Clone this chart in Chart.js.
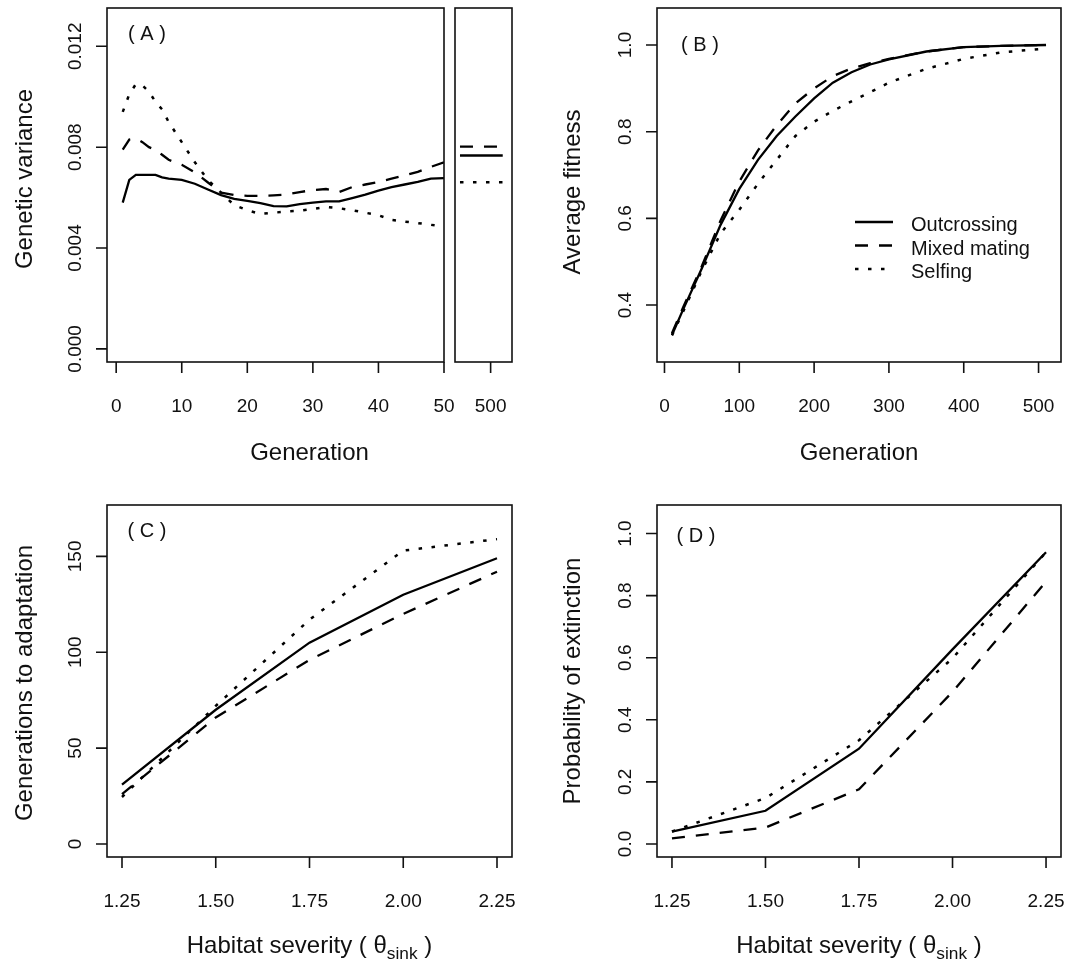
<!DOCTYPE html>
<html>
<head>
<meta charset="utf-8">
<script src="https://cdn.jsdelivr.net/npm/chart.js@4.4.1/dist/chart.umd.min.js"></script>
<style>
  body { margin: 0; background: #fff; }
  canvas { position: absolute; left: 0; top: 0; }
</style>
</head>
<body>
<canvas id="panelA" width="1067" height="963"></canvas>
<canvas id="panelA500" width="1067" height="963"></canvas>
<canvas id="panelB" width="1067" height="963"></canvas>
<canvas id="panelC" width="1067" height="963"></canvas>
<canvas id="panelD" width="1067" height="963"></canvas>
<script>
// ---- data ----

// (A) genetic variance over the first 50 generations
const genA = [1, 2, 3, 4, 5, 6, 7, 8, 10, 12, 14, 16, 18, 20, 22, 24, 26, 28, 30, 32, 34, 36, 38, 40, 42, 44, 46, 48, 50];
const varOut = [0.0058, 0.0067, 0.0069, 0.0069, 0.0069, 0.0069, 0.0068, 0.00675, 0.0067, 0.00655, 0.00632, 0.0061, 0.00595, 0.00587,
  0.00578, 0.00566, 0.00565, 0.00574, 0.0058, 0.00585, 0.00585, 0.00598, 0.00612, 0.00628, 0.00642, 0.00652, 0.00662, 0.00675, 0.00677];
const varMix = [0.0079, 0.0083, 0.00835, 0.0082, 0.008, 0.0079, 0.0077, 0.0075, 0.0073, 0.007, 0.0066, 0.0062, 0.0061, 0.00607,
  0.00607, 0.00609, 0.00612, 0.00622, 0.0063, 0.00634, 0.00622, 0.00642, 0.00652, 0.00662, 0.00675, 0.00688, 0.00702, 0.00722, 0.0074];
const varSelf = [0.0094, 0.0101, 0.0105, 0.01045, 0.0102, 0.0098, 0.0095, 0.009, 0.0082, 0.0074, 0.0067, 0.0062, 0.0057, 0.0055,
  0.00535, 0.0054, 0.00545, 0.00548, 0.00555, 0.00563, 0.00558, 0.0055, 0.0054, 0.0053, 0.00512, 0.00505, 0.00499, 0.00492, 0.00485];
// (A) inset at generation 500: outcrossing, mixed, selfing
const gen500 = [457, 517];
const var500 = [0.00767, 0.00802, 0.00661];

// (B) average fitness
const genB = [10, 25, 50, 75, 100, 125, 150, 175, 200, 225, 250, 275, 300, 350, 400, 450, 510];
const fitOut = [0.331, 0.39, 0.485, 0.585, 0.668, 0.735, 0.79, 0.835, 0.877, 0.913, 0.937, 0.955, 0.967, 0.985, 0.995, 0.998, 1.0];
const fitMix = [0.335, 0.395, 0.49, 0.595, 0.685, 0.757, 0.815, 0.865, 0.9, 0.928, 0.946, 0.958, 0.968, 0.985, 0.995, 0.998, 1.0];
const fitSelf = [0.33, 0.385, 0.48, 0.565, 0.62, 0.68, 0.735, 0.79, 0.823, 0.848, 0.87, 0.891, 0.913, 0.945, 0.968, 0.983, 0.992];

// (C) and (D) against habitat severity
const severity = [1.25, 1.5, 1.75, 2.0, 2.25];
const adaptOut = [31, 70, 105, 130, 149];
const adaptMix = [26, 66, 96, 120, 142];
const adaptSelf = [24.5, 72, 117, 153, 159];
const extOut = [0.04, 0.107, 0.307, 0.627, 0.94];
const extMix = [0.018, 0.053, 0.176, 0.49, 0.845];
const extSelf = [0.04, 0.148, 0.334, 0.598, 0.94];

// tick values and labels
const ticksAx = [0, 10, 20, 30, 40, 50];
const labelsAx = ['0', '10', '20', '30', '40', '50'];
const ticksAy = [0, 0.004, 0.008, 0.012];
const labelsAy = ['0.000', '0.004', '0.008', '0.012'];
const ticksA500 = [500];
const labelsA500 = ['500'];
const ticksBx = [0, 100, 200, 300, 400, 500];
const labelsBx = ['0', '100', '200', '300', '400', '500'];
const ticksBy = [0.4, 0.6, 0.8, 1.0];
const labelsBy = ['0.4', '0.6', '0.8', '1.0'];
const ticksSev = [1.25, 1.5, 1.75, 2.0, 2.25];
const labelsSev = ['1.25', '1.50', '1.75', '2.00', '2.25'];
const ticksCy = [0, 50, 100, 150];
const labelsCy = ['0', '50', '100', '150'];
const ticksDy = [0, 0.2, 0.4, 0.6, 0.8, 1.0];
const labelsDy = ['0.0', '0.2', '0.4', '0.6', '0.8', '1.0'];

// ---- drawing ----
const W = 1067, H = 963;
const FONT = '"Liberation Sans", Arial, Helvetica, sans-serif';
const INK = '#111';
const TICK_LEN = 11;
const TICK_SIZE = 19;
const TITLE_SIZE = 24;

const STYLES = {
    out: { label: 'Outcrossing', dash: [], width: 2.3 },
    mix: { label: 'Mixed mating', dash: [13, 11], width: 2.3 },
    self: { label: 'Selfing', dash: [3.5, 9.5], width: 2.5 }
};

function series(xs, ys, kind) {
    const s = STYLES[kind];
    return {
        label: s.label,
        data: xs.map((x, i) => ({ x: x, y: ys[i] })),
        borderColor: '#000',
        borderWidth: s.width,
        borderDash: s.dash,
        pointRadius: 0,
        tension: 0,
        fill: false
    };
}

// text made of pieces, some of them subscripts
function drawParts(ctx, parts, size) {
    let widths = parts.map(p => {
        ctx.font = (p.sub ? size * 0.72 : size) + 'px ' + FONT;
        return ctx.measureText(p.t).width;
    });
    let total = widths.reduce((a, b) => a + b, 0);
    let x = -total / 2;
    parts.forEach((p, i) => {
        ctx.font = (p.sub ? size * 0.72 : size) + 'px ' + FONT;
        ctx.textAlign = 'left';
        ctx.fillText(p.t, x, p.sub ? size * 0.25 : 0);
        x += widths[i];
    });
}

const rAxes = {
    id: 'rAxes',
    afterDraw(chart, args, o) {
        const ctx = chart.ctx;
        const a = chart.chartArea;
        const sx = chart.scales.x, sy = chart.scales.y;
        ctx.save();
        ctx.strokeStyle = INK;
        ctx.fillStyle = INK;
        ctx.lineWidth = 1.6;
        ctx.setLineDash([]);
        ctx.strokeRect(a.left, a.top, a.right - a.left, a.bottom - a.top);

        const xt = o.xTicks || [], yt = o.yTicks || [];
        ctx.beginPath();
        xt.forEach(v => {
            const p = sx.getPixelForValue(v);
            ctx.moveTo(p, a.bottom);
            ctx.lineTo(p, a.bottom + TICK_LEN);
        });
        yt.forEach(v => {
            const p = sy.getPixelForValue(v);
            ctx.moveTo(a.left, p);
            ctx.lineTo(a.left - TICK_LEN, p);
        });
        ctx.stroke();

        ctx.font = TICK_SIZE + 'px ' + FONT;
        ctx.textAlign = 'center';
        ctx.textBaseline = 'alphabetic';
        xt.forEach((v, i) => ctx.fillText(o.xLabels[i], sx.getPixelForValue(v), a.bottom + 50));
        yt.forEach((v, i) => {
            ctx.save();
            ctx.translate(a.left - 26, sy.getPixelForValue(v));
            ctx.rotate(-Math.PI / 2);
            ctx.fillText(o.yLabels[i], 0, 0);
            ctx.restore();
        });

        if (o.xTitle) {
            ctx.save();
            ctx.translate(o.xTitleAt[0], o.xTitleAt[1]);
            drawParts(ctx, o.xTitle, TITLE_SIZE);
            ctx.restore();
        }
        if (o.yTitle) {
            ctx.save();
            ctx.translate(o.yTitleAt[0], o.yTitleAt[1]);
            ctx.rotate(-Math.PI / 2);
            drawParts(ctx, [{ t: o.yTitle }], TITLE_SIZE);
            ctx.restore();
        }
        if (o.tag) {
            ctx.font = '20px ' + FONT;
            ctx.textAlign = 'center';
            ctx.textBaseline = 'middle';
            ctx.fillText(o.tag, o.tagAt[0], o.tagAt[1]);
        }
        if (o.legend) {
            const L = o.legend;
            chart.data.datasets.forEach((ds, i) => {
                const y = L.y + i * L.dy;
                ctx.beginPath();
                ctx.lineWidth = ds.borderWidth;
                ctx.setLineDash(ds.borderDash);
                ctx.strokeStyle = '#000';
                ctx.moveTo(L.x, y);
                ctx.lineTo(L.x + L.len, y);
                ctx.stroke();
                ctx.setLineDash([]);
                ctx.font = '20px ' + FONT;
                ctx.textAlign = 'left';
                ctx.textBaseline = 'alphabetic';
                ctx.fillText(ds.label, L.textX, y + 9);
            });
        }
        ctx.restore();
    }
};

function makePanel(id, box, xRange, yRange, datasets, axes) {
    return new Chart(document.getElementById(id), {
        type: 'line',
        data: { datasets: datasets },
        options: {
            responsive: false,
            animation: false,
            events: [],
            layout: { padding: { left: box[0], top: box[1], right: W - box[2], bottom: H - box[3] } },
            plugins: { legend: { display: false }, tooltip: { enabled: false }, rAxes: axes },
            scales: {
                x: { type: 'linear', display: false, min: xRange[0], max: xRange[1] },
                y: { type: 'linear', display: false, min: yRange[0], max: yRange[1] }
            }
        },
        plugins: [rAxes]
    });
}

makePanel('panelA', [107, 8, 444, 362], [-1.4, 50], [-0.00052, 0.01352], [
    series(genA, varOut, 'out'),
    series(genA, varMix, 'mix'),
    series(genA, varSelf, 'self')
], {
    xTicks: ticksAx, xLabels: labelsAx, yTicks: ticksAy, yLabels: labelsAy,
    xTitle: [{ t: 'Generation' }], xTitleAt: [309.5, 460],
    yTitle: 'Genetic variance', yTitleAt: [32, 179],
    tag: '( A )', tagAt: [147, 34]
});

makePanel('panelA500', [455, 8, 512, 362], [450, 530], [-0.00052, 0.01352], [
    series(gen500, [var500[0], var500[0]], 'out'),
    series(gen500, [var500[1], var500[1]], 'mix'),
    series(gen500, [var500[2], var500[2]], 'self')
], {
    xTicks: ticksA500, xLabels: labelsA500
});

makePanel('panelB', [657, 8, 1061, 362], [-10, 530], [0.2685, 1.0854], [
    series(genB, fitOut, 'out'),
    series(genB, fitMix, 'mix'),
    series(genB, fitSelf, 'self')
], {
    xTicks: ticksBx, xLabels: labelsBx, yTicks: ticksBy, yLabels: labelsBy,
    xTitle: [{ t: 'Generation' }], xTitleAt: [859, 460],
    yTitle: 'Average fitness', yTitleAt: [580, 192],
    tag: '( B )', tagAt: [700, 45],
    legend: { x: 855, y: 222, dy: 23.5, len: 38, textX: 911 }
});

const sevTitle = [{ t: 'Habitat severity ( \u03b8' }, { t: 'sink', sub: true }, { t: ' )' }];

makePanel('panelC', [107, 505, 512, 857], [1.21, 2.29], [-6.8, 176.8], [
    series(severity, adaptOut, 'out'),
    series(severity, adaptMix, 'mix'),
    series(severity, adaptSelf, 'self')
], {
    xTicks: ticksSev, xLabels: labelsSev, yTicks: ticksCy, yLabels: labelsCy,
    xTitle: sevTitle, xTitleAt: [309.5, 953],
    yTitle: 'Generations to adaptation', yTitleAt: [32, 683],
    tag: '( C )', tagAt: [147, 531]
});

makePanel('panelD', [657, 505, 1061, 857], [1.21, 2.29], [-0.042, 1.092], [
    series(severity, extOut, 'out'),
    series(severity, extMix, 'mix'),
    series(severity, extSelf, 'self')
], {
    xTicks: ticksSev, xLabels: labelsSev, yTicks: ticksDy, yLabels: labelsDy,
    xTitle: sevTitle, xTitleAt: [859, 953],
    yTitle: 'Probability of extinction', yTitleAt: [580, 681],
    tag: '( D )', tagAt: [696, 536]
});
</script>
</body>
</html>
